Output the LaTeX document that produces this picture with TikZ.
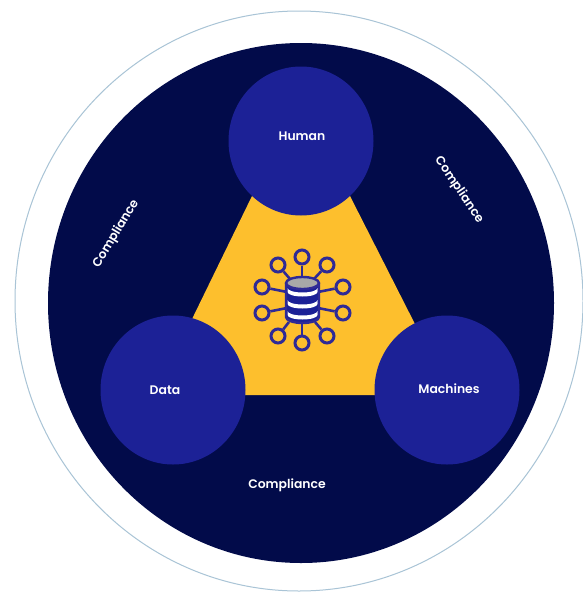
\documentclass[tikz,border=0pt]{standalone}
\usepackage{fontspec}
\setmainfont{Poppins}[BoldFont={Poppins SemiBold}]
\definecolor{navy}{HTML}{020B4A}
\definecolor{royal}{HTML}{1C2196}
\definecolor{gold}{HTML}{FDBF2D}
\definecolor{ringc}{HTML}{A9C4D6}
\definecolor{icon}{HTML}{2F2A96}
\definecolor{cap}{HTML}{A8A8A8}
\tikzset{
  lab/.style={text=white,font=\fontsize{12.4}{14}\selectfont\bfseries,inner sep=0pt},
  big/.style={ellipse,fill=royal,minimum width=145pt,minimum height=149pt,inner sep=0pt},
  sat/.style={circle,draw=icon,line width=3pt,minimum size=14pt,inner sep=0pt},
  spoke/.style={draw=icon,line width=2.6pt}
}
\usetikzlibrary{shapes.geometric}
\begin{document}
\begin{tikzpicture}[x=1pt,y=-1pt]
\useasboundingbox (0,0) rectangle (583,592);
\fill[white] (0,0) rectangle (583,592);
\draw[ringc,line width=1pt] (299,301) ellipse [x radius=284,y radius=290];
\fill[navy] (301,303) ellipse [x radius=253,y radius=260];
\fill[gold] (252,196) -- (350,196) -- (451,395) -- (155,395) -- cycle;
\node[big] (human) at (301,141) {};
\node[big] (data) at (173,390) {};
\node[big] (machines) at (447,390) {};
\node[lab] at (302,136) {Human};
\node[lab] at (165,390) {Data};
\node[lab] at (449,389) {Machines};
\node[lab,rotate=59] (c1) at (116,234) {Compliance};
\node[lab,rotate=-56] (c2) at (459,190) {Compliance};
\node[lab] (c3) at (287,485) {Compliance};
% icon
\foreach \n/\x/\y/\ex/\ey in {a/302/257/302/277,b/278/265/290/279,d/327/265/314/279,e/262/287/287/292,f/343/287/318/292,g/262/313/287/308,h/343/313/318/308,i/278/336/289/322,j/327/336/315/322,k/302/343/302/323}{
  \coordinate (e\n) at (\ex,\ey);
  \node[sat] (s\n) at (\x,\y) {};
  \draw[spoke] (s\n) -- (e\n);
}
\fill[royal] (286,283) -- (286,317) arc[start angle=180,end angle=0,x radius=16.5,y radius=6] -- (319,283) -- cycle;
\foreach \yy in {288,300,311}{
  \fill[white] (287.5,\yy) arc[start angle=180,end angle=0,x radius=15,y radius=4.5] -- (317.5,\yy+4) arc[start angle=0,end angle=180,x radius=15,y radius=4.5] -- cycle;
}
\draw[icon,line width=2.4pt] (286,283) -- (286,317) arc[start angle=180,end angle=0,x radius=16.5,y radius=6] -- (319,283);
\draw[icon,line width=2.4pt,fill=cap] (302.5,283) ellipse [x radius=16.5,y radius=6];
\end{tikzpicture}
\end{document}
